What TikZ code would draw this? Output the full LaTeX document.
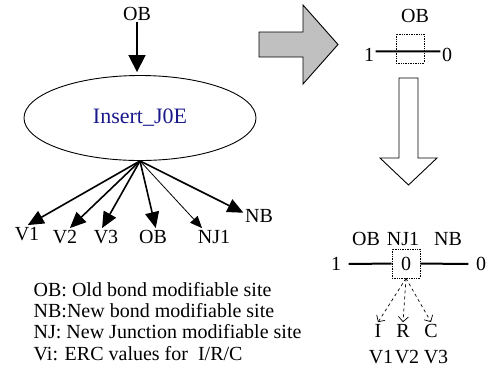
\documentclass[tikz,border=0pt]{standalone}
\usepackage{fontspec}
\setmainfont{Liberation Serif}
\usepackage{tikz}
\usetikzlibrary{arrows.meta,shapes.geometric}
\definecolor{insblue}{RGB}{25,25,140}
\definecolor{arrgray}{RGB}{192,192,192}

\begin{document}
\begin{tikzpicture}[x=1pt,y=-1pt,>={Triangle[length=16pt,width=14pt]},
  every node/.style={font=\fontsize{20}{22}\selectfont,inner sep=1.5pt},
  lbl/.style={anchor=base},
  site/.style={draw,densely dotted,line width=0.7pt,minimum width=28pt,minimum height=29pt,inner sep=0pt},
  bond/.style={line width=2pt},
  blockarr/.style={draw,line width=0.9pt},
  opt/.style={dashed,line width=0.7pt,-{Straight Barb[length=5pt,width=10pt]}}]
  \useasboundingbox (0,0) rectangle (488,376);

  \node[lbl] (ob0) at (137,20) {OB};
  \node[ellipse,draw,line width=0.9pt,minimum width=232pt,minimum height=85pt,inner sep=0pt,text=insblue,
        font=\fontsize{22}{24}\selectfont] (ins) at (140,118) {Insert\_J0E};
  \draw[-{Triangle[length=17pt,width=17pt]},line width=1.8pt,shorten >=3pt] (ob0.south) -- (ob0.south |- ins.north);

  \node[lbl] (v1) at (27,240) {V1};
  \node[lbl] (v2) at (65,243) {V2};
  \node[lbl] (v3) at (106,243) {V3};
  \node[lbl] (ob1) at (153,243) {OB};
  \node[lbl] (nj1) at (214,243) {NJ1};
  \node[lbl] (nb1) at (259,222) {NB};
  \path[->,line width=1.6pt] (ins.south) edge (v1.85)
     edge (v2.60)
     edge (v3.115)
     edge (ob1.72)
     edge [line width=0.8pt,-{Triangle[length=12pt,width=10pt]}] (nj1.145)
     edge (nb1.170);

  \draw[blockarr,fill=arrgray] (259,32) -- (303,32) -- (303,5) -- (338,44.5) -- (303,84) -- (303,57) -- (259,57) -- cycle;

  \node[lbl] (ob2) at (415,22) {OB};
  \node[site] (bx0) at (410,48.5) {};
  \node[lbl] (one0) at (369,61) {1};
  \node[lbl] (zero0) at (447,61) {0};
  \draw[bond] ([yshift=3pt]one0.east) -- ([yshift=3pt]zero0.west);

  \draw[blockarr,fill=white] (399,78) -- (418,78) -- (418,158) -- (437,158) -- (408.5,185) -- (380,158) -- (399,158) -- cycle;

  \node[lbl] (ob3) at (366,245) {OB};
  \node[lbl] (nj3) at (403,245) {NJ1};
  \node[lbl] (nb3) at (448,245) {NB};
  \node[site] (bx1) at (406,263.5) {0};
  \node (one1) at (336,264) {1};
  \node (zero1) at (481,264) {0};
  \draw[bond,shorten <=6pt] (one1) -- (bx1);
  \draw[bond,shorten >=6pt] (bx1) -- (zero1);

  \node[lbl] (ii) at (378,337) {I};
  \node[lbl] (rr) at (403,337) {R};
  \node[lbl] (cc) at (431,337) {C};
  \node[lbl] (v1b) at (381,363) {V1};
  \node[lbl] (v2b) at (407,363) {V2};
  \node[lbl] (v3b) at (436,363) {V3};
  \path[opt] (bx1.south) edge (ii.north)
     edge (rr.north)
     edge (cc.north);

  \node[lbl,anchor=base west] (lg1) at (32,296) {OB: Old bond modifiable site};
  \node[lbl,anchor=base west] (lg2) at (32,317) {NB:New bond modifiable site};
  \node[lbl,anchor=base west] (lg3) at (32,338) {NJ: New Junction modifiable site};
  \node[lbl,anchor=base west] (lg4) at (32,360) {Vi: ERC values for~ I/R/C};
\end{tikzpicture}
\end{document}
